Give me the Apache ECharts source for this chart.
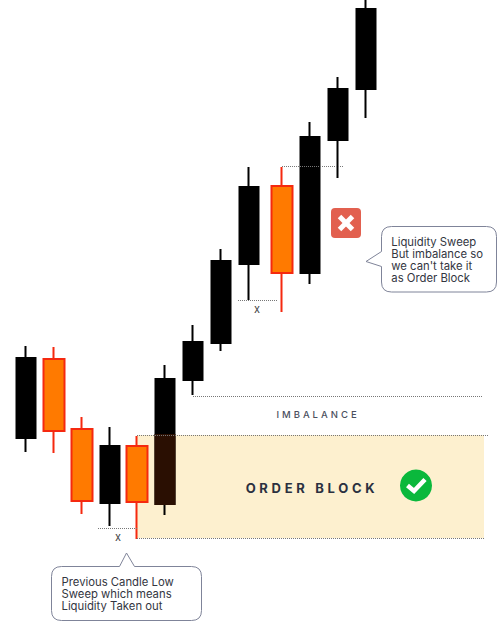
<!DOCTYPE html>
<html>
<head>
<meta charset="utf-8">
<style>
  html, body { margin: 0; padding: 0; background: #fff; }
  #main { width: 501px; height: 628px; }
  /* echarts text has no letter spacing option, so the two spaced labels get it here */
  text[fill="#4b4f5e"] { letter-spacing: 3px; }
  text[fill="#2b3040"] { letter-spacing: 3.7px; }
</style>
<script src="https://cdn.jsdelivr.net/npm/echarts@6/dist/echarts.min.js"></script>
</head>
<body>
<div id="main"></div>
<script>
// candles, left to right
const candleX = [26, 54, 82, 110, 137, 165, 193, 221, 249, 282, 310, 338, 366];
const bodyTop = [270, 269, 199, 182, 182, 249, 286, 367, 441, 442, 491, 539, 619];
const bodyBottom = [190, 197, 127, 125, 126, 124, 248, 285, 364, 355, 355, 488, 539];
const wickHigh = [282, 281, 211, 201, 192, 263, 303, 379, 461, 461, 506, 551, 640];
const wickLow = [176, 175, 114, 102, 89, 113, 233, 277, 328, 316, 344, 450, 510];
const orangeIdx = [1, 2, 4, 9];

// order block zone and dotted levels
const zoneX = [137, 484];
const zoneY = [90, 193];
const dottedLevels = [
  [98, 137, 100],
  [137, 489, 193],
  [137, 484, 90],
  [193, 482, 232],
  [238, 277, 328],
  [282, 344, 461.5]
];

const toRow = i => [candleX[i], bodyBottom[i], bodyTop[i], wickLow[i], wickHigh[i]];
const allIdx = candleX.map((_, i) => i);
const blackRows = allIdx.filter(i => !orangeIdx.includes(i)).map(toRow);
const orangeRows = orangeIdx.map(toRow);
// part of the big black candle that sits inside the zone
const overlapRows = [[candleX[5], bodyBottom[5], zoneY[1], bodyBottom[5], zoneY[1]]];

const candleStyle = (fill, border) => ({
  color: fill, color0: fill, borderColor: border, borderColor0: border, borderColorDoji: border, borderWidth: 2
});

// graphic component has no plain path type, callout outlines are registered as shapes
echarts.graphic.registerShape('calloutLeft', echarts.graphic.extendPath(
  'M61.5 566.5 H119.5 L126.5 553 L134.5 566.5 H191.5 Q201.5 566.5 201.5 576.5 V610.5 Q201.5 620.5 191.5 620.5 H61.5 Q51.5 620.5 51.5 610.5 V576.5 Q51.5 566.5 61.5 566.5 Z', {}));
echarts.graphic.registerShape('calloutRight', echarts.graphic.extendPath(
  'M391.5 226.5 H486.5 Q496.5 226.5 496.5 236.5 V282 Q496.5 292 486.5 292 H391.5 Q381.5 292 381.5 282 V266.5 L366 261.5 L381.5 251.5 V236.5 Q381.5 226.5 391.5 226.5 Z', {}));

const chart = echarts.init(document.getElementById('main'), null, { renderer: 'svg' });

const option = {
  animation: false,
  backgroundColor: '#fff',
  grid: { left: 0, right: 0, top: 0, bottom: 0 },
  xAxis: { type: 'value', min: 0, max: 501, show: false },
  yAxis: { type: 'value', min: 0, max: 628, show: false },
  series: [
    {
      type: 'line',
      data: [],
      silent: true,
      z: 1,
      markArea: {
        silent: true,
        itemStyle: { color: '#fdf0cf' },
        data: [[{ coord: [zoneX[0], zoneY[1]] }, { coord: [zoneX[1], zoneY[0]] }]]
      }
    },
    {
      type: 'candlestick',
      silent: true,
      z: 3,
      barWidth: 20,
      encode: { x: 0, y: [1, 2, 3, 4] },
      itemStyle: candleStyle('#000', '#000'),
      data: blackRows
    },
    {
      type: 'candlestick',
      silent: true,
      z: 4,
      barWidth: 20,
      encode: { x: 0, y: [1, 2, 3, 4] },
      itemStyle: candleStyle('#2a0f02', '#2a0f02'),
      data: overlapRows
    },
    {
      type: 'candlestick',
      silent: true,
      z: 3,
      barWidth: 22,
      encode: { x: 0, y: [1, 2, 3, 4] },
      itemStyle: candleStyle('#ff7a00', '#f5290f'),
      data: orangeRows
    },
    {
      type: 'line',
      data: [],
      silent: true,
      z: 2,
      markLine: {
        silent: true,
        symbol: 'none',
        label: { show: false },
        lineStyle: { type: [1, 1], color: '#777', width: 1 },
        data: dottedLevels.map(d => [{ coord: [d[0], d[2]] }, { coord: [d[1], d[2]] }])
      }
    }
  ],
  graphic: [
    // left callout
    { type: 'calloutLeft', z: 20, style: { fill: '#fff', stroke: '#7f8499', lineWidth: 1 } },
    {
      type: 'text', z: 21, x: 61.5, y: 576.5,
      style: { text: 'Previous Candle Low\nSweep which means\nLiquidity Taken out', font: '11.3px Inter', fill: '#33363f', lineHeight: 11.8 }
    },
    // right callout
    { type: 'calloutRight', z: 20, style: { fill: '#fff', stroke: '#7f8499', lineWidth: 1 } },
    {
      type: 'text', z: 21, x: 391.3, y: 236.3,
      style: { text: 'Liquidity Sweep\nBut imbalance so\nwe can\'t take it\nas Order Block', font: '11.3px Inter', fill: '#33363f', lineHeight: 11.8 }
    },
    // x marks
    { type: 'text', z: 21, x: 118, y: 537, style: { text: 'x', font: '11px Inter', fill: '#444', align: 'center', verticalAlign: 'middle' } },
    { type: 'text', z: 21, x: 257, y: 308.5, style: { text: 'x', font: '11px Inter', fill: '#444', align: 'center', verticalAlign: 'middle' } },
    // zone labels
    { type: 'text', z: 21, x: 318, y: 414, style: { text: 'IMBALANCE', font: '500 9.5px Inter', fill: '#4b4f5e', align: 'center', verticalAlign: 'middle' } },
    { type: 'text', z: 21, x: 312, y: 488, style: { text: 'ORDER BLOCK', font: '700 13px Inter', fill: '#2b3040', align: 'center', verticalAlign: 'middle' } },
    // red cross
    { type: 'rect', z: 20, shape: { x: 331, y: 208, width: 30, height: 30, r: 4 }, style: { fill: '#e2604f' } },
    { type: 'polyline', z: 21, shape: { points: [[339.5, 216.5], [352.5, 229.5]] }, style: { stroke: '#fff', lineWidth: 5, fill: null } },
    { type: 'polyline', z: 21, shape: { points: [[352.5, 216.5], [339.5, 229.5]] }, style: { stroke: '#fff', lineWidth: 5, fill: null } },
    // green check
    { type: 'circle', z: 20, shape: { cx: 416, cy: 485.5, r: 16 }, style: { fill: '#0ab83c' } },
    { type: 'polyline', z: 21, shape: { points: [[407.5, 485.5], [414, 491], [425, 479.5]] }, style: { stroke: '#fff', lineWidth: 4.5, fill: null } }
  ]
};

chart.setOption(option);
</script>
</body>
</html>
